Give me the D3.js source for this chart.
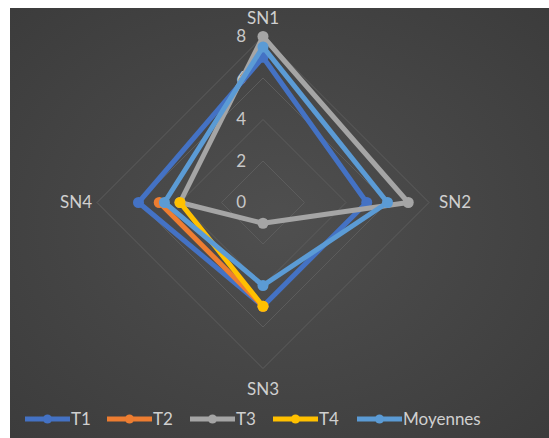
<!DOCTYPE html>
<html>
<head>
<meta charset="utf-8">
<script src="https://cdn.jsdelivr.net/npm/d3@7"></script>
<style>
  html, body { margin: 0; padding: 0; background: #ffffff; }
  svg { display: block; }
  text { font-family: "Lato", "Liberation Sans", sans-serif; }
</style>
</head>
<body>
<svg id="chart" width="549" height="438"></svg>
<script>
const categories = ["SN1", "SN2", "SN3", "SN4"];
const tickValues = [0, 2, 4, 6, 8];
const seriesNames = ["T1", "T2", "T3", "T4", "Moyennes"];
const T1 = [7, 5, 5, 6];
const T2 = [null, null, 5, 5];
const T3 = [8, 7, 1, 4];
const T4 = [null, null, 5, 4];
const Moyennes = [7.5, 6, 4, 4.75];
const colors = ["#4472C4", "#ED7D31", "#A5A5A5", "#FFC000", "#5B9BD5"];

const seriesValues = [T1, T2, T3, T4, Moyennes];

const svg = d3.select("#chart");
const W = 549, H = 438;
const cx = 263, cy = 202.5, R = 166;

// background
const defs = svg.append("defs");
const grad = defs.append("radialGradient").attr("id", "bg")
  .attr("cx", "50%").attr("cy", "50%").attr("r", "70%");
grad.append("stop").attr("offset", "0%").attr("stop-color", "#4f4f4f");
grad.append("stop").attr("offset", "100%").attr("stop-color", "#3c3c3c");
svg.append("rect").attr("x", 10).attr("y", 8).attr("width", W - 10).attr("height", H - 8)
  .attr("fill", "url(#bg)");

const r = d3.scaleLinear().domain([0, 8]).range([0, R]);
const angle = d3.scalePoint().domain(categories).range([0, 2 * Math.PI * 3 / 4]);
const px = (cat, v) => cx + r(v) * Math.sin(angle(cat));
const py = (cat, v) => cy - r(v) * Math.cos(angle(cat));

// grid diamonds
const gridG = svg.append("g");
tickValues.filter(t => t > 0).forEach(t => {
  const pts = categories.map(c => [px(c, t), py(c, t)]);
  gridG.append("path")
    .attr("d", d3.line()(pts.concat([pts[0]])))
    .attr("fill", "none")
    .attr("stroke", "#5c5c5c")
    .attr("stroke-width", 1);
});

// tick labels
svg.append("g").selectAll("text").data(tickValues).join("text")
  .attr("x", cx - 17)
  .attr("y", d => cy - r(d))
  .attr("dy", "0.35em")
  .attr("text-anchor", "end")
  .attr("font-size", 17)
  .attr("fill", "#c8c8c8")
  .text(d => d);

// category labels
const catPos = {
  SN1: { x: cx, y: 18, anchor: "middle" },
  SN2: { x: 439, y: cy, anchor: "start" },
  SN3: { x: cx, y: 389, anchor: "middle" },
  SN4: { x: 92, y: cy, anchor: "end" }
};
svg.append("g").selectAll("text").data(categories).join("text")
  .attr("x", d => catPos[d].x)
  .attr("y", d => catPos[d].y)
  .attr("dy", "0.35em")
  .attr("text-anchor", d => catPos[d].anchor)
  .attr("font-size", 17)
  .attr("fill", "#d0d0d0")
  .text(d => d);

// series
const line = d3.line()
  .defined(d => d.v != null)
  .x(d => px(d.c, d.v))
  .y(d => py(d.c, d.v));

seriesValues.forEach((vals, i) => {
  const pts = categories.map((c, j) => ({ c, v: vals[j] }));
  const closed = pts.concat([pts[0]]);
  const g = svg.append("g");
  g.append("path")
    .attr("d", line(closed))
    .attr("fill", "none")
    .attr("stroke", colors[i])
    .attr("stroke-width", 5)
    .attr("stroke-linejoin", "round")
    .attr("stroke-linecap", "round");
  g.selectAll("circle").data(pts.filter(d => d.v != null)).join("circle")
    .attr("cx", d => px(d.c, d.v))
    .attr("cy", d => py(d.c, d.v))
    .attr("r", 5.5)
    .attr("fill", colors[i]);
});

// legend
const legendX = [25, 107, 190, 273, 357];
const ly = 419;
const lg = svg.append("g");
seriesNames.forEach((name, i) => {
  const x0 = legendX[i];
  lg.append("line")
    .attr("x1", x0).attr("x2", x0 + 45)
    .attr("y1", ly).attr("y2", ly)
    .attr("stroke", colors[i]).attr("stroke-width", 5);
  lg.append("circle")
    .attr("cx", x0 + 22.5).attr("cy", ly).attr("r", 4.5)
    .attr("fill", colors[i]);
  lg.append("text")
    .attr("x", x0 + 46).attr("y", ly)
    .attr("dy", "0.35em")
    .attr("font-size", 17)
    .attr("fill", "#d0d0d0")
    .text(name);
});
</script>
</body>
</html>
